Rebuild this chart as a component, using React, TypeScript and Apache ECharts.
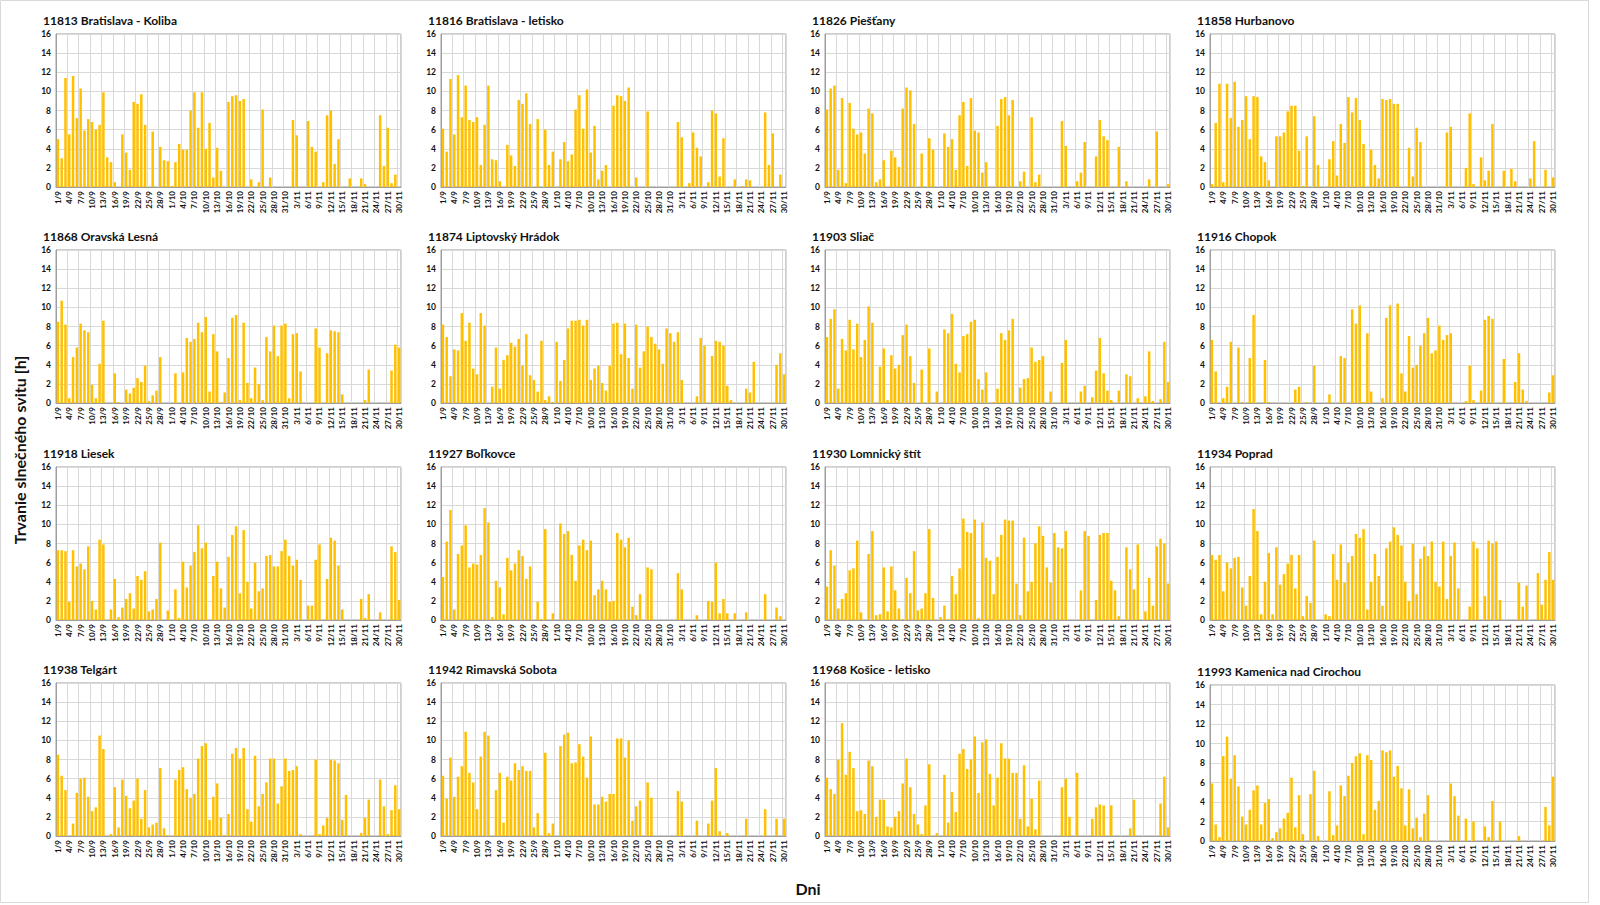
import React, { useEffect, useRef } from "react";
import * as echarts from "echarts";

// ---------- categories (1/9 .. 30/11) ----------
const monthDefs: [number, number][] = [
  [9, 30],
  [10, 31],
  [11, 30],
];
const categories: string[] = monthDefs.flatMap(([m, n]) =>
  Array.from({ length: n }, (_, i) => `${i + 1}/${m}`)
);

// ---------- station names ----------
const stationNames: string[] = [
  "11813 Bratislava - Koliba",
  "11816 Bratislava - letisko",
  "11826 Piešťany",
  "11858 Hurbanovo",
  "11868 Oravská Lesná",
  "11874 Liptovský Hrádok",
  "11903 Sliač",
  "11916 Chopok",
  "11918 Liesek",
  "11927 Boľkovce",
  "11930 Lomnický štít",
  "11934 Poprad",
  "11938 Telgárt",
  "11942 Rimavská Sobota",
  "11968 Košice - letisko",
  "11993 Kamenica nad Cirochou",
];

// ---------- daily sunshine duration [h], Sep | Oct | Nov ----------
const koliba: number[] = [
  5.0, 3.0, 11.4, 5.5, 11.6, 7.2, 10.3, 5.9, 7.1, 6.8, 6.0, 6.5, 9.9, 3.1, 2.6, 0.5, 0, 5.5, 3.6, 1.8, 8.9, 8.7, 9.7, 6.5, 0, 5.8, 0, 4.2, 2.8, 2.7,
  0.1, 2.6, 4.5, 3.9, 3.9, 8.0, 9.9, 6.2, 9.9, 4.0, 6.7, 1.0, 4.1, 1.7, 0, 8.9, 9.5, 9.6, 9.0, 9.2, 0, 0.8, 0, 0.5, 8.1, 0, 1.0, 0, 0, 0, 0,
  0, 7.0, 5.4, 0, 0, 6.9, 4.2, 3.7, 0, 0.5, 7.5, 8.0, 2.4, 5.0, 0, 0, 0.9, 0, 0, 0.9, 0.3, 0, 0, 0, 7.5, 2.2, 6.2, 0.4, 1.3, 0,
];
const bratislavaLetisko: number[] = [
  6.1, 3.7, 11.3, 5.5, 11.7, 7.3, 10.6, 7.0, 6.8, 7.3, 2.3, 6.5, 10.6, 2.9, 2.8, 0.6, 0, 4.4, 3.3, 2.2, 9.1, 8.7, 9.8, 6.6, 0, 7.1, 0, 6.0, 2.3, 3.7,
  0, 2.9, 4.7, 2.7, 3.4, 8.1, 9.6, 6.1, 10.2, 3.6, 6.4, 0.8, 1.7, 2.3, 0, 8.5, 9.6, 9.5, 9.0, 10.4, 0, 1.0, 0, 0, 7.9, 0, 0, 0, 0, 0, 0,
  0, 6.8, 5.2, 0, 0.4, 5.7, 4.1, 3.2, 0, 0.5, 8.0, 7.7, 1.1, 5.1, 0, 0, 0.8, 0, 0.1, 0.8, 0.7, 0, 0, 0, 7.8, 2.3, 5.6, 0, 1.3, 0,
];
const piestany: number[] = [
  8.1, 10.3, 10.6, 1.8, 9.3, 0.4, 8.8, 6.1, 5.5, 5.7, 3.5, 8.2, 7.7, 0.5, 0.8, 2.8, 0, 3.8, 3.1, 2.1, 8.2, 10.4, 10.1, 6.6, 0, 3.5, 0, 5.1, 3.9, 0,
  0, 5.6, 4.2, 5.0, 1.8, 7.5, 8.9, 2.2, 9.3, 5.9, 5.7, 1.5, 2.6, 0, 0, 6.4, 9.2, 9.4, 7.5, 9.1, 0, 0.6, 1.6, 0, 7.3, 0.5, 1.3, 0, 0, 0, 0,
  0, 6.9, 4.3, 0, 0, 0.6, 1.5, 4.7, 0, 0, 3.2, 7.0, 5.3, 4.9, 0, 0, 4.2, 0, 0.6, 0, 0, 0, 0, 0, 0.8, 0, 5.8, 0, 0, 0.3,
];
const hurbanovo: number[] = [
  0.3, 6.7, 10.8, 0.5, 10.8, 7.2, 11.0, 6.3, 7.0, 9.5, 5.0, 9.5, 9.4, 3.2, 2.6, 0.7, 0, 5.3, 5.3, 5.7, 7.9, 8.5, 8.5, 3.8, 0.1, 5.3, 0, 7.4, 2.3, 0,
  0, 2.9, 4.8, 1.2, 6.6, 4.6, 9.4, 7.8, 9.3, 7.0, 4.5, 0, 3.9, 2.3, 0.9, 9.2, 9.1, 9.2, 8.7, 8.7, 0, 0, 4.1, 1.1, 6.2, 4.7, 0, 0, 0, 0, 0,
  0, 5.7, 6.3, 0, 0, 0, 2.0, 7.7, 0.3, 0, 3.1, 0.7, 1.7, 6.6, 0, 0, 1.7, 0, 1.9, 0.6, 0, 0, 0, 0.9, 4.8, 0, 0, 1.8, 0, 1.0,
];
const oravskaLesna: number[] = [
  8.5, 10.7, 8.2, 0.5, 4.8, 5.8, 8.3, 7.6, 7.4, 1.9, 0.5, 4.1, 8.6, 0, 0, 3.1, 0.1, 0, 1.4, 1.0, 1.6, 2.6, 2.2, 3.9, 0.2, 0.8, 1.3, 4.8, 0, 0,
  0, 3.1, 0, 3.2, 6.8, 6.4, 6.7, 8.4, 7.4, 9.0, 1.2, 7.2, 5.4, 0.1, 1.1, 4.7, 8.9, 9.2, 0.3, 8.4, 2.1, 0.5, 3.7, 2.0, 0.3, 6.9, 5.4, 8.1, 4.9, 8.1, 8.3,
  0.5, 7.2, 7.3, 3.3, 0, 0, 0, 7.8, 5.8, 0, 5.2, 7.6, 7.5, 7.4, 0.9, 0, 0, 0, 0, 0, 0.3, 3.5, 0, 0, 0, 0, 0, 3.4, 6.1, 5.8,
];
const liptovskyHradok: number[] = [
  8.2, 6.9, 2.8, 5.6, 5.5, 9.4, 6.5, 8.4, 3.6, 3.0, 9.4, 8.1, 0, 1.7, 5.8, 1.5, 4.5, 5.0, 6.3, 5.9, 6.7, 3.9, 7.2, 2.9, 2.4, 1.2, 6.5, 0.3, 0.7, 0.1,
  6.4, 2.3, 4.5, 7.8, 8.6, 8.6, 8.7, 8.1, 8.7, 2.4, 3.6, 3.9, 2.1, 1.3, 3.9, 8.3, 8.4, 5.1, 8.3, 4.7, 1.5, 8.2, 3.7, 5.4, 8.0, 6.9, 6.2, 5.6, 4.1, 7.8, 7.3,
  6.4, 7.4, 2.4, 0, 0, 0, 0.7, 6.8, 6.0, 0, 4.9, 6.5, 6.4, 6.0, 1.8, 0.3, 0, 0, 0, 1.5, 1.1, 4.3, 0, 0, 0, 0, 0, 4.0, 5.2, 3.0,
];
const sliac: number[] = [
  6.9, 8.8, 9.8, 1.5, 6.7, 5.5, 8.7, 5.6, 8.3, 4.8, 6.6, 10.1, 8.4, 0, 3.8, 5.7, 0.3, 5.0, 3.6, 4.0, 7.1, 8.2, 4.9, 2.1, 0, 3.5, 0, 5.7, 0, 1.2,
  0, 7.7, 7.3, 9.3, 4.1, 3.2, 7.0, 7.2, 8.5, 8.7, 2.5, 1.4, 3.2, 0, 0.1, 1.5, 7.3, 6.6, 7.6, 8.8, 0, 1.6, 2.5, 2.6, 5.8, 4.3, 4.5, 4.9, 0, 1.2, 0,
  0, 4.2, 6.6, 0, 0, 0, 1.2, 1.8, 0, 0.6, 3.4, 6.8, 3.1, 1.3, 0.3, 0, 1.3, 0, 3.0, 2.8, 0, 0.5, 0, 0.7, 5.4, 0.2, 0, 0.4, 6.4, 2.2,
];
const chopok: number[] = [
  6.6, 3.3, 0, 0.5, 1.7, 6.4, 0, 5.8, 0.1, 0, 4.7, 9.2, 0, 0, 4.5, 0.1, 0, 0, 0, 0, 0, 0, 1.4, 1.7, 0, 0.1, 0, 3.9, 0, 0,
  0, 0.9, 0, 0, 4.9, 4.7, 0, 9.8, 8.3, 10.2, 0.1, 7.3, 1.2, 0, 0, 0.5, 8.9, 10.2, 0, 10.4, 3.1, 1.2, 7.0, 3.7, 4.0, 6.0, 7.3, 8.9, 5.2, 5.5, 8.1,
  6.6, 7.1, 7.3, 0, 0, 0, 0.2, 3.9, 0.3, 0, 1.3, 8.7, 9.1, 8.8, 0, 0, 4.6, 0, 0, 2.2, 5.2, 1.4, 0.2, 0, 0, 0, 0, 0, 1.1, 2.9,
];
const liesek: number[] = [
  7.3, 7.3, 7.2, 1.9, 7.3, 5.6, 5.9, 5.3, 7.7, 2.0, 1.1, 8.4, 7.9, 0, 1.1, 4.3, 0.3, 1.3, 2.2, 2.8, 1.2, 4.6, 4.2, 5.1, 0.9, 1.1, 2.2, 8.1, 0, 1.0,
  0, 3.2, 0.2, 6.1, 3.4, 5.7, 7.1, 9.9, 7.5, 8.1, 0, 4.6, 6.1, 3.3, 1.3, 6.6, 8.9, 9.8, 2.8, 9.4, 4.0, 1.2, 6.0, 3.0, 3.3, 6.7, 6.8, 5.6, 5.6, 7.2, 8.4,
  6.7, 5.7, 6.3, 4.2, 0, 1.5, 1.5, 6.3, 7.9, 0, 4.3, 8.6, 8.3, 5.7, 1.1, 0, 0, 0, 0, 2.2, 0.2, 2.7, 0, 0, 0.8, 0, 0, 7.7, 7.1, 2.1,
];
const bolkovce: number[] = [
  4.5, 8.2, 11.5, 1.1, 6.9, 7.8, 9.9, 5.5, 5.9, 5.8, 6.8, 11.7, 10.2, 0.3, 4.1, 3.4, 0.6, 6.5, 5.2, 5.9, 7.3, 6.7, 4.3, 5.6, 0, 1.9, 0.1, 9.5, 0, 0.7,
  0, 10.1, 9.0, 9.3, 6.8, 4.1, 7.8, 8.4, 7.3, 8.3, 2.6, 3.2, 4.1, 3.2, 1.9, 2.0, 9.1, 8.4, 7.6, 8.6, 1.4, 0.5, 2.7, 0, 5.5, 5.3, 0, 0, 0, 0, 0,
  0, 4.9, 3.2, 0, 0, 0, 0.5, 0, 0, 2.0, 1.9, 6.0, 0.7, 2.2, 0.7, 0, 0.7, 0, 0, 0.8, 0, 0, 0, 0, 2.7, 0, 0, 1.3, 0.4, 0,
];
const lomnickyStit: number[] = [
  3.5, 7.3, 5.7, 1.2, 2.2, 2.8, 5.2, 5.4, 8.3, 0.8, 0, 6.9, 9.3, 0.5, 0.6, 5.5, 0.9, 5.6, 3.1, 1.2, 0.1, 4.4, 2.8, 7.2, 1.0, 1.2, 2.8, 9.5, 2.3, 0,
  0.3, 1.5, 0.1, 4.6, 2.7, 5.4, 10.6, 9.2, 9.1, 10.5, 0.2, 10.2, 6.5, 6.2, 2.7, 6.6, 8.9, 10.5, 10.4, 10.4, 3.8, 0.5, 8.6, 3.0, 4.0, 8.0, 9.8, 8.8, 5.5, 3.9, 9.1,
  7.6, 7.5, 9.3, 0, 0, 0, 3.1, 9.3, 8.8, 0, 2.1, 8.9, 9.1, 9.1, 4.1, 3.1, 0.4, 0, 7.6, 5.3, 3.2, 7.9, 0, 0.9, 4.4, 1.5, 7.7, 8.5, 8.0, 3.8,
];
const poprad: number[] = [
  6.8, 6.3, 6.8, 3.0, 6.0, 5.4, 6.5, 6.6, 3.4, 1.5, 4.6, 11.6, 9.3, 0.6, 4.0, 7.0, 0.6, 7.6, 3.7, 4.8, 5.9, 6.8, 3.3, 6.8, 0.4, 2.5, 1.8, 8.3, 0, 0,
  0.6, 0.4, 6.9, 4.2, 7.9, 3.9, 6.0, 6.7, 9.0, 8.6, 9.5, 1.1, 4.0, 6.9, 4.6, 1.5, 7.5, 8.2, 9.7, 8.9, 7.8, 4.0, 2.0, 8.0, 2.7, 6.4, 7.7, 6.7, 8.2, 4.0, 3.5,
  8.2, 2.2, 6.7, 8.1, 3.3, 0, 0, 1.4, 8.2, 7.5, 0, 2.5, 8.3, 8.0, 8.2, 2.1, 0, 0, 0, 0, 3.9, 1.4, 3.6, 0, 0, 4.9, 1.6, 4.2, 7.1, 4.2,
];
const telgart: number[] = [
  8.5, 6.3, 4.8, 0, 1.3, 4.5, 6.0, 6.1, 4.1, 2.6, 3.0, 10.5, 9.1, 0, 0.2, 5.1, 0.9, 5.9, 4.2, 2.9, 3.7, 6.0, 1.8, 4.8, 0.9, 1.2, 1.4, 7.1, 0.8, 0.1,
  0, 5.9, 6.9, 7.2, 4.9, 4.0, 4.4, 8.1, 9.4, 9.7, 1.7, 4.1, 5.5, 1.9, 0.1, 2.3, 8.6, 9.2, 8.1, 9.2, 2.8, 1.5, 8.4, 3.1, 4.4, 5.6, 8.1, 8.1, 3.4, 5.2, 8.1,
  6.8, 6.9, 7.3, 0.2, 0, 0, 0, 8.0, 0.2, 1.1, 1.9, 8.0, 7.9, 7.6, 1.7, 4.3, 0, 0, 0, 0.3, 1.9, 3.8, 0, 0, 5.9, 3.1, 0.2, 2.7, 5.3, 2.8,
];
const rimavskaSobota: number[] = [
  6.3, 3.9, 8.2, 4.1, 6.2, 7.3, 10.9, 6.6, 5.6, 2.8, 8.3, 10.9, 10.5, 0, 4.8, 6.6, 1.4, 6.2, 5.8, 7.6, 6.9, 7.3, 6.8, 6.8, 0.9, 2.4, 0, 8.7, 0.3, 1.3,
  0, 9.4, 10.6, 10.8, 7.6, 7.7, 9.6, 8.3, 6.1, 10.4, 3.3, 3.3, 4.1, 3.6, 4.4, 4.4, 10.2, 10.2, 8.2, 10.0, 1.6, 3.1, 3.7, 0, 5.6, 4.0, 0, 0, 0, 0, 0,
  0, 4.7, 3.6, 0, 0, 0, 1.6, 0, 0, 1.3, 3.7, 7.1, 0.5, 0, 0.3, 0, 0, 0, 0, 1.8, 0, 0, 0, 0, 2.8, 0, 0, 1.8, 0, 1.8,
];
const kosiceLetisko: number[] = [
  6.1, 4.9, 4.4, 8.0, 11.8, 6.4, 8.8, 7.1, 2.6, 2.7, 2.3, 7.9, 7.3, 2.0, 3.8, 3.8, 1.0, 0.9, 2.0, 2.6, 5.5, 8.1, 5.1, 2.3, 1.2, 0.2, 3.2, 7.5, 0, 0.3,
  0, 6.4, 1.4, 4.6, 2.5, 8.6, 9.1, 7.0, 8.0, 10.4, 4.5, 9.8, 10.1, 6.5, 3.2, 6.1, 9.7, 8.1, 8.1, 6.6, 6.6, 1.8, 7.4, 1.0, 3.9, 0.7, 5.8, 0, 0, 0, 0,
  0, 5.1, 6.0, 2.0, 0, 6.6, 0, 0, 0, 1.8, 3.0, 3.3, 3.2, 0, 3.2, 0, 0, 0, 0, 0.8, 3.8, 0, 0, 0, 0, 0, 0, 3.4, 6.2, 0.9,
];
const kamenica: number[] = [
  5.9, 1.7, 0.4, 8.7, 10.7, 6.4, 8.8, 5.6, 2.5, 1.7, 3.2, 5.2, 5.7, 1.7, 3.9, 4.3, 0.3, 0.9, 1.3, 2.3, 2.9, 6.5, 1.4, 4.7, 0.7, 0, 4.8, 7.2, 0.5, 0,
  0, 5.1, 0.6, 1.6, 5.7, 4.6, 6.7, 8.0, 8.7, 9.0, 0.7, 8.8, 8.3, 3.2, 4.1, 9.3, 9.1, 9.3, 6.6, 7.7, 5.4, 1.6, 5.3, 1.3, 2.4, 0.4, 2.8, 4.7, 0, 0, 0,
  0, 0, 5.9, 4.6, 2.6, 0, 2.3, 0, 2.0, 0, 0, 1.5, 0.4, 4.1, 0, 2.0, 0, 0, 0, 0, 0.5, 0, 0, 0, 0, 0, 0, 3.5, 1.6, 6.6,
];

const stationData: number[][] = [
  koliba, bratislavaLetisko, piestany, hurbanovo,
  oravskaLesna, liptovskyHradok, sliac, chopok,
  liesek, bolkovce, lomnickyStit, poprad,
  telgart, rimavskaSobota, kosiceLetisko, kamenica,
];

const yTicks = { min: 0, max: 16, interval: 2 };

// ---------- layout ----------
const W = 1600;
const H = 905;
const colLefts = [56, 441, 825, 1210];
const rowTops = [34, 250, 467, 683];
const plotW = 345;
const plotH = 153;
const FONT = "Lato, 'Open Sans', sans-serif";
const BAR_COLOR = "#FFC000";

export default function App() {
  const ref = useRef<HTMLDivElement>(null);

  useEffect(() => {
    if (!ref.current) return;
    const chart = echarts.init(ref.current, undefined, { renderer: "svg", width: W, height: H });

    const grids: any[] = [];
    const xAxes: any[] = [];
    const yAxes: any[] = [];
    const series: any[] = [];
    const graphics: any[] = [];

    stationData.forEach((data, i) => {
      const r = Math.floor(i / 4);
      const c = i % 4;
      const left = colLefts[c];
      let top = rowTops[r];
      let h = plotH;
      if (i === 15) {
        top += 2;
        h += 3;
      }
      grids.push({
        left,
        top,
        width: plotW,
        height: h,
        show: true,
        borderColor: "#9E9E9E",
        borderWidth: 1,
        backgroundColor: "#fff",
        containLabel: false,
      });
      xAxes.push({
        type: "category",
        gridIndex: i,
        data: categories,
        boundaryGap: true,
        axisLine: { show: true, lineStyle: { color: "#9E9E9E", width: 1 } },
        axisTick: { show: false },
        axisLabel: {
          interval: 2,
          rotate: 90,
          fontSize: 8,
          fontWeight: "bold",
          fontFamily: FONT,
          color: "#111",
          margin: 4,
        },
        splitLine: { show: true, interval: 2, lineStyle: { color: "#D9D9D9", width: 1 } },
      });
      yAxes.push({
        type: "value",
        gridIndex: i,
        min: yTicks.min,
        max: yTicks.max,
        interval: yTicks.interval,
        axisLine: { show: true, lineStyle: { color: "#9E9E9E" } },
        axisTick: { show: false },
        axisLabel: {
          fontSize: 8.5,
          fontWeight: "bold",
          fontFamily: FONT,
          color: "#111",
          margin: 5,
        },
        splitLine: { show: true, lineStyle: { color: "#D9D9D9", width: 1 } },
      });
      series.push({
        type: "bar",
        xAxisIndex: i,
        yAxisIndex: i,
        data,
        barCategoryGap: "34%",
        itemStyle: { color: BAR_COLOR },
        silent: true,
      });
      graphics.push({
        type: "text",
        x: left - 13,
        y: top - 14,
        style: {
          text: stationNames[i],
          font: `bold 12px ${FONT}`,
          fill: "#111",
          align: "left",
          verticalAlign: "middle",
        },
      });
    });

    graphics.push({
      type: "text",
      x: 19,
      y: 450,
      rotation: Math.PI / 2,
      style: {
        text: "Trvanie slnečného svitu [h]",
        font: `bold 16px ${FONT}`,
        fill: "#111",
        align: "center",
        verticalAlign: "middle",
      },
    });
    graphics.push({
      type: "text",
      x: 808,
      y: 888,
      style: {
        text: "Dni",
        font: `bold 16px ${FONT}`,
        fill: "#111",
        align: "center",
        verticalAlign: "middle",
      },
    });
    graphics.push({
      type: "rect",
      shape: { x: 0.5, y: 0.5, width: 1588, height: 902 },
      style: { fill: "none", stroke: "#D9D9D9", lineWidth: 1 },
      silent: true,
    });

    chart.setOption({
      animation: false,
      backgroundColor: "#fff",
      grid: grids,
      xAxis: xAxes,
      yAxis: yAxes,
      series,
      graphic: graphics,
    });

    return () => {
      chart.dispose();
    };
  }, []);

  return (
    <div
      ref={ref}
      style={{ position: "absolute", left: 0, top: 0, width: W, height: H, background: "#fff" }}
    />
  );
}
